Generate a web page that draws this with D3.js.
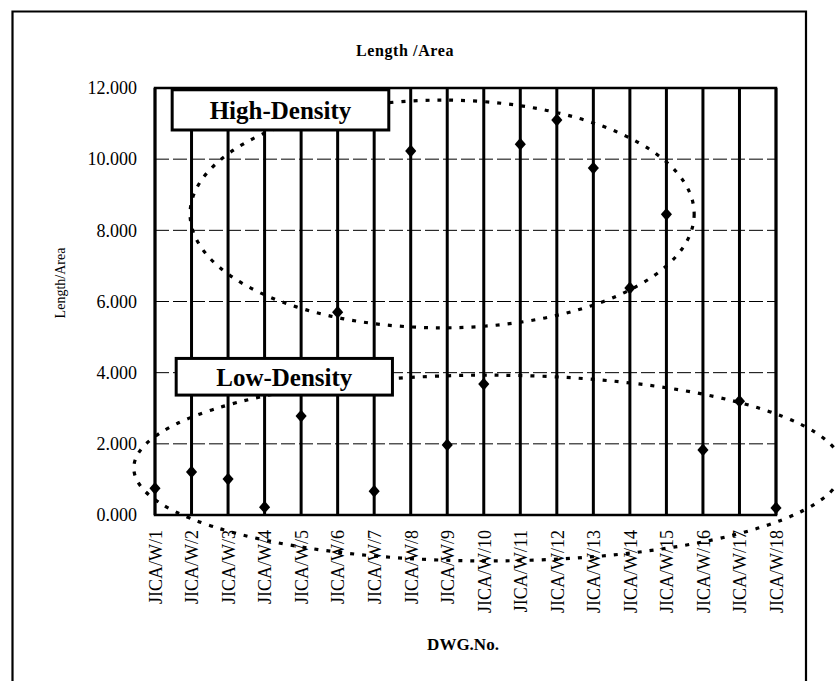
<!DOCTYPE html>
<html>
<head>
<meta charset="utf-8">
<script src="https://cdn.jsdelivr.net/npm/d3@7/dist/d3.min.js"></script>
<style>
  html, body { margin: 0; padding: 0; background: #fff; }
  svg { display: block; }
  text { font-family: "Liberation Serif", "Times New Roman", serif; fill: #000; }
</style>
</head>
<body>
<svg id="chart" width="836" height="681"></svg>
<script>
// ---- data ----
const categories = ["JICA/W/1","JICA/W/2","JICA/W/3","JICA/W/4","JICA/W/5","JICA/W/6","JICA/W/7","JICA/W/8","JICA/W/9",
  "JICA/W/10","JICA/W/11","JICA/W/12","JICA/W/13","JICA/W/14","JICA/W/15","JICA/W/16","JICA/W/17","JICA/W/18"];
const lengthPerArea = [0.75, 1.21, 1.01, 0.22, 2.78, 5.70, 0.67, 10.23, 1.97, 3.68, 10.42, 11.10, 9.75, 6.38, 8.45, 1.83, 3.20, 0.20];
const yTicks = [0, 2, 4, 6, 8, 10, 12];
const chartTitle = "Length /Area";
const yTitle = "Length/Area";
const xTitle = "DWG.No.";
// annotation groups: centre (category index, value), radii (categories, value units)
const groupLabels = ["High-Density", "Low-Density"];
const groupEllipses = [
  { cx: 7.86, cy: 8.46, rx: 6.9, ry: 3.2 },
  { cx: 9.12, cy: 1.32, rx: 9.7, ry: 2.61 }
];
// label boxes anchored in data units (left/right category index, top/bottom value)
const groupBoxes = [
  { x0: 0.47, x1: 6.4, top: 11.95, bottom: 10.82 },
  { x0: 0.58, x1: 6.5, top: 4.4, bottom: 3.37 }
];

// ---- layout ----
const svg = d3.select("#chart");
const pLeft = 155, pRight = 776, pTop = 88, pBottom = 515;

const x = d3.scalePoint().domain(categories).range([pLeft, pRight]);
const y = d3.scaleLinear().domain([0, 12]).range([pBottom, pTop]);
const step = x.step();
const xi = i => pLeft + i * step;

// outer frame
svg.append("path")
  .attr("d", `M12.5,700 L12.5,11.5 L806,11.5 L806,700`)
  .attr("fill", "none").attr("stroke", "#000").attr("stroke-width", 2.2);

// horizontal gridlines
svg.append("g").selectAll("line").data(yTicks.filter(t => t > 0 && t < 12)).join("line")
  .attr("x1", pLeft).attr("x2", pRight)
  .attr("y1", d => y(d)).attr("y2", d => y(d))
  .attr("stroke", "#000").attr("stroke-width", 1)
  .attr("stroke-dasharray", "14,4");

// vertical category lines
svg.append("g").selectAll("line").data(categories).join("line")
  .attr("x1", d => x(d)).attr("x2", d => x(d))
  .attr("y1", y(0)).attr("y2", y(12))
  .attr("stroke", "#000").attr("stroke-width", 3);

// plot border
svg.append("rect")
  .attr("x", pLeft).attr("y", pTop).attr("width", pRight - pLeft).attr("height", pBottom - pTop)
  .attr("fill", "none").attr("stroke", "#000").attr("stroke-width", 2.5);

// y axis labels
const yAxis = d3.axisLeft(y).tickValues(yTicks).tickFormat(d3.format(".3f")).tickSize(0).tickPadding(18);
const gy = svg.append("g").attr("transform", `translate(${pLeft},0)`).call(yAxis);
gy.select(".domain").remove();
gy.selectAll("text").style("font-family", '"Liberation Serif", serif').style("font-size", "18px").attr("fill", "#000");

// x axis labels
const xAxis = d3.axisBottom(x).tickSize(0).tickPadding(0);
const gx = svg.append("g").attr("transform", `translate(0,${pBottom})`).call(xAxis);
gx.select(".domain").remove();
gx.selectAll("text")
  .style("font-family", '"Liberation Serif", serif').style("font-size", "18px").attr("fill", "#000")
  .attr("transform", "rotate(-90)")
  .attr("x", -15).attr("y", 0).attr("dy", "0.35em")
  .attr("text-anchor", "end");

// dotted ellipses
svg.append("g").selectAll("ellipse").data(groupEllipses).join("ellipse")
  .attr("cx", d => xi(d.cx)).attr("cy", d => y(d.cy))
  .attr("rx", d => d.rx * step).attr("ry", d => y(0) - y(d.ry))
  .attr("fill", "none").attr("stroke", "#000").attr("stroke-width", 3.2)
  .attr("stroke-dasharray", "4,8");

// markers (diamonds)
svg.append("g").selectAll("path").data(lengthPerArea).join("path")
  .attr("transform", (d, i) => `translate(${x(categories[i])},${y(d)}) scale(1,1.15) rotate(45)`)
  .attr("d", d3.symbol(d3.symbolSquare, 62));

// label boxes
const boxes = svg.append("g").selectAll("g").data(groupBoxes).join("g");
boxes.append("rect")
  .attr("x", d => xi(d.x0)).attr("y", d => y(d.top))
  .attr("width", d => (d.x1 - d.x0) * step).attr("height", d => y(d.bottom) - y(d.top))
  .attr("fill", "#fff").attr("stroke", "#000").attr("stroke-width", 3);
boxes.append("text")
  .attr("x", d => xi((d.x0 + d.x1) / 2)).attr("y", d => (y(d.top) + y(d.bottom)) / 2)
  .attr("dy", "0.35em").attr("text-anchor", "middle")
  .style("font-size", "25px").style("font-weight", "bold")
  .text((d, i) => groupLabels[i]);

// titles
svg.append("text").attr("x", 405).attr("y", 56).attr("text-anchor", "middle")
  .style("font-size", "16px").style("font-weight", "bold").style("letter-spacing", "0.6px")
  .text(chartTitle);
svg.append("text").attr("transform", `translate(65,283) rotate(-90)`).attr("text-anchor", "middle")
  .style("font-size", "14px").text(yTitle);
svg.append("text").attr("x", 463).attr("y", 650).attr("text-anchor", "middle")
  .style("font-size", "17px").style("font-weight", "bold").text(xTitle);
</script>
</body>
</html>
